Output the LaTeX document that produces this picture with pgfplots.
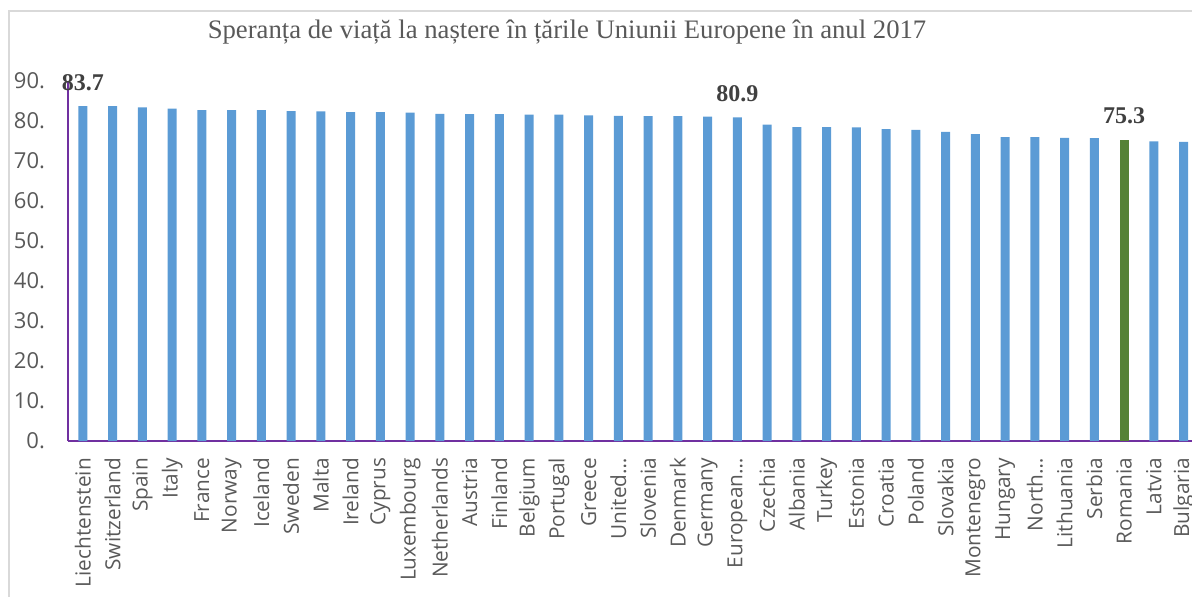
\documentclass[border=0pt]{standalone}
\usepackage{fontspec}
\setmainfont{Open Sans}
\newfontfamily\tnr{Liberation Serif}
\usepackage{pgfplots}
\usepackage{pgfplotstable}
\pgfplotsset{compat=1.18}

\definecolor{barblue}{HTML}{5B9BD5}
\definecolor{bargreen}{HTML}{548235}
\definecolor{axpurple}{HTML}{7030A0}
\definecolor{txtgray}{HTML}{595959}
\definecolor{lblgray}{HTML}{404040}
\definecolor{framegray}{HTML}{D9D9D9}

% life expectancy at birth, 2017 (Romania drawn separately)
\pgfplotstableread{
x y
0 83.7
1 83.7
2 83.4
3 83.1
4 82.7
5 82.7
6 82.7
7 82.5
8 82.4
9 82.2
10 82.2
11 82.1
12 81.8
13 81.7
14 81.7
15 81.6
16 81.6
17 81.4
18 81.3
19 81.2
20 81.2
21 81.1
22 80.9
23 79.1
24 78.5
25 78.5
26 78.4
27 78.0
28 77.8
29 77.3
30 76.7
31 76.0
32 76.0
33 75.8
34 75.7
36 74.9
37 74.8
}\lifeexp

\begin{document}
\begin{tikzpicture}[x=1pt,y=1pt]
\draw[framegray, line width=0.7pt] (4.5,-20) -- (4.5,292.5) -- (700,292.5);
\node[font=\tnr\fontsize{13.35}{15}\selectfont, text=txtgray] at (283.5,282)
  {Speranța de viață la naștere în țările Uniunii Europene în anul 2017};
\begin{axis}[
  at={(34pt,77.5pt)}, anchor=south west,
  scale only axis, width=565.25pt, height=180pt,
  xmin=-0.5, xmax=37.5, ymin=0, ymax=90,
  axis x line=bottom, axis y line=left,
  axis line style={-, draw=axpurple, line width=0.9pt},
  major tick length=0pt,
  ybar, bar width=4.5pt, bar shift=0pt,
  clip=false,
  ytick={0,10,...,90},
  yticklabels={0.,10.,20.,30.,40.,50.,60.,70.,80.,90.},
  yticklabel style={font=\fontsize{11}{13}\selectfont, text=txtgray, xshift=-8pt},
  xtick={0,...,37},
  xticklabels={Liechtenstein,Switzerland,Spain,Italy,France,Norway,Iceland,Sweden,Malta,Ireland,Cyprus,Luxembourg,Netherlands,Austria,Finland,Belgium,Portugal,Greece,United…,Slovenia,Denmark,Germany,European…,Czechia,Albania,Turkey,Estonia,Croatia,Poland,Slovakia,Montenegro,Hungary,North…,Lithuania,Serbia,Romania,Latvia,Bulgaria},
  xticklabel style={rotate=90, anchor=east, font=\fontsize{10.4}{12}\selectfont, text=txtgray},
  xticklabel shift=5pt,
]
\addplot[fill=barblue, draw=none] table[x=x, y=y] {\lifeexp};
\addplot[fill=bargreen, draw=none] coordinates {(35,75.3)};
\addplot[draw=none, fill=none, point meta=y,
  nodes near coords={\pgfmathprintnumber[fixed,fixed zerofill,precision=1,assume math mode=true]{\pgfplotspointmeta}},
  nodes near coords style={font=\tnr\bfseries\fontsize{12}{14}\selectfont, text=lblgray, anchor=center, yshift=12pt}]
  coordinates {(0,83.7) (22,80.9) (35,75.3)};
\end{axis}
\pgfresetboundingbox
\useasboundingbox (0,0) rectangle (596,298);
\end{tikzpicture}
\end{document}
